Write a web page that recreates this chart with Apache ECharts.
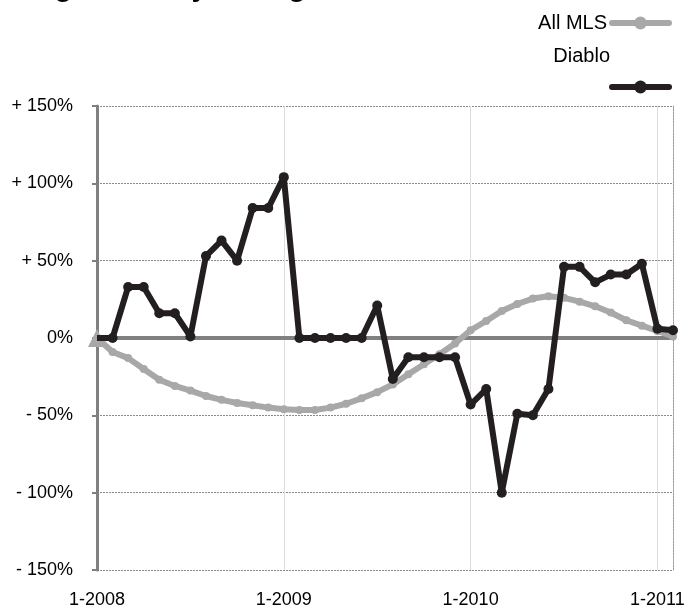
<!DOCTYPE html>
<html>
<head>
<meta charset="utf-8">
<script src="https://cdn.jsdelivr.net/npm/echarts@6/dist/echarts.min.js"></script>
<style>
html,body{margin:0;padding:0;background:#fff;}
#chart{width:688px;height:614px;}
</style>
</head>
<body>
<div id="chart"></div>
<script>
const months = [
  "1-2008","2-2008","3-2008","4-2008","5-2008","6-2008","7-2008","8-2008","9-2008","10-2008","11-2008","12-2008",
  "1-2009","2-2009","3-2009","4-2009","5-2009","6-2009","7-2009","8-2009","9-2009","10-2009","11-2009","12-2009",
  "1-2010","2-2010","3-2010","4-2010","5-2010","6-2010","7-2010","8-2010","9-2010","10-2010","11-2010","12-2010",
  "1-2011","2-2011"
];
const allMLS = [
  0, -9, -13, -20, -27, -31, -34, -37.5, -40, -42, -43.5, -45,
  -46, -46.5, -46.5, -45, -42.5, -39, -35, -30, -23.5, -17, -10.5, -3.5,
  5, 11, 17.5, 22, 25.5, 27, 26, 23.5, 20.5, 16.5, 11.5, 8,
  4.5, 1
];
const diablo = [
  0, 0, 33, 33, 16, 16, 1, 53, 63, 50, 84, 84,
  104, 0, 0, 0, 0, 0, 21, -26.5, -12.5, -12.5, -12.5, -12.5,
  -43, -33, -100, -49, -50, -33, 46, 46, 36, 41, 41, 48,
  6, 5
];
const yTicks = { min: -150, max: 150, step: 50 };
const titleText = "Average Monthly Change";

const chart = echarts.init(document.getElementById('chart'), null, {renderer: 'canvas'});
const FONT = "'Liberation Sans', Arial, Helvetica, sans-serif";
const yearTick = (i) => i % 12 === 0;

chart.setOption({
  animation: false,
  backgroundColor: '#ffffff',
  title: {
    text: titleText,
    left: -30,
    top: -32,
    textStyle: {fontFamily: FONT, fontSize: 29, fontWeight: 'bold', color: '#000'}
  },
  legend: [
    {
      data: ['All MLS'],
      right: 11, top: 8,
      align: 'right',
      itemWidth: 57, itemHeight: 16,
      lineStyle: {width: 6, cap: 'round'},
      textStyle: {fontFamily: FONT, fontSize: 20, color: '#000'}
    },
    {
      data: ['Diablo'],
      right: 11, top: 74,
      align: 'right',
      itemWidth: 57, itemHeight: 16,
      lineStyle: {width: 6, cap: 'round'},
      formatter: () => '',
      textStyle: {fontFamily: FONT, fontSize: 20, color: '#000'}
    }
  ],
  graphic: [{
    type: 'text',
    right: 78, top: 46,
    style: {text: 'Diablo', font: "20px 'Liberation Sans', Arial, sans-serif", fill: '#000'}
  }],
  grid: {left: 97, right: 15, top: 106, bottom: 44, containLabel: false},
  xAxis: {
    type: 'category',
    data: months,
    boundaryGap: false,
    axisLine: {onZero: true, lineStyle: {color: '#808080', width: 4}},
    axisTick: {show: false},
    axisLabel: {
      interval: (i) => yearTick(i),
      fontFamily: FONT, fontSize: 18, color: '#000', margin: 21
    },
    splitLine: {show: true, interval: (i) => yearTick(i), lineStyle: {color: '#dddddd', width: 1}}
  },
  yAxis: [
    {
      type: 'value',
      min: yTicks.min, max: yTicks.max, interval: yTicks.step,
      axisLine: {show: true, lineStyle: {color: '#808080', width: 3}},
      axisTick: {show: true, length: 5, lineStyle: {color: '#808080', width: 2}},
      axisLabel: {
        fontFamily: FONT, fontSize: 18, color: '#000', margin: 24,
        formatter: (v) => v > 0 ? '+ ' + v + '%' : (v < 0 ? '- ' + (-v) + '%' : '0%')
      },
      splitLine: {show: true, lineStyle: {color: '#8a8a8a', width: 1, type: [2, 1]}}
    },
    {
      type: 'value',
      position: 'right',
      min: yTicks.min, max: yTicks.max, interval: yTicks.step,
      axisLine: {show: true, lineStyle: {color: '#9a9a9a', width: 1, type: [2, 1]}},
      axisTick: {show: false},
      axisLabel: {show: false},
      splitLine: {show: false}
    }
  ],
  series: [
    {
      name: 'All MLS',
      type: 'line',
      data: allMLS.map((v, i) => i === 0 ? {value: v, symbol: 'triangle', symbolSize: 18} : v),
      symbol: 'circle',
      symbolSize: 8,
      showSymbol: true,
      showAllSymbol: true,
      lineStyle: {color: '#a8a8a8', width: 6},
      itemStyle: {color: '#a8a8a8'},
      z: 3
    },
    {
      name: 'Diablo',
      type: 'line',
      data: diablo.map((v, i) => i === 0 ? {value: v, symbol: 'none'} : v),
      symbol: 'circle',
      symbolSize: 10,
      showAllSymbol: true,
      lineStyle: {color: '#231f20', width: 6},
      itemStyle: {color: '#231f20'},
      z: 4
    }
  ]
});
</script>
</body>
</html>
